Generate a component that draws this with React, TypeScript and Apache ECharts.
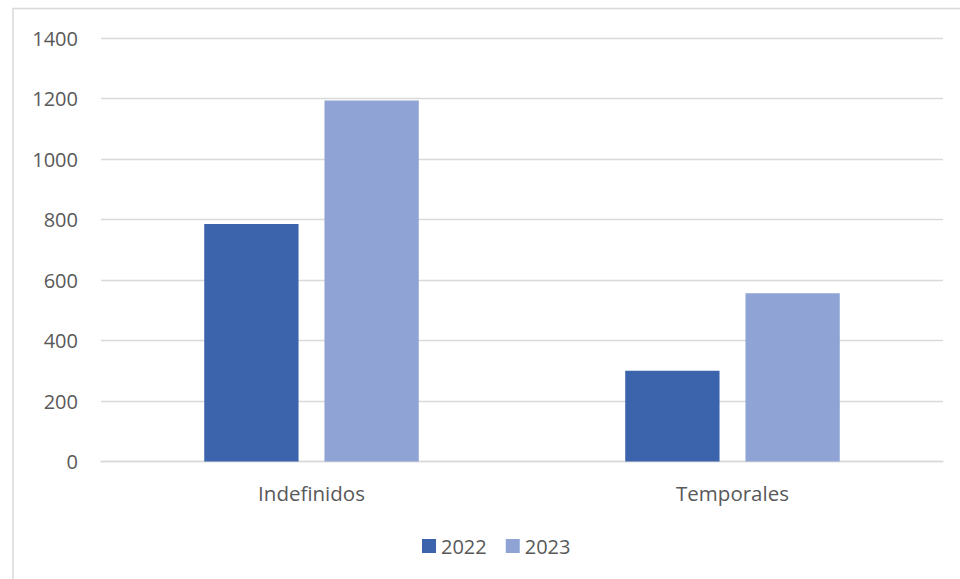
import React, { useEffect, useRef } from "react";
import * as echarts from "echarts";

// Contract types and yearly counts
const categories = ["Indefinidos", "Temporales"];
const years = ["2022", "2023"];
const values2022 = [785, 300];
const values2023 = [1193, 556];
const yTicks = { min: 0, max: 1400, interval: 200 };

const colors = ["#3b64ad", "#8fa4d5"];
const textColor = "#595959";
const font = "'Open Sans', 'Noto Sans', sans-serif";

export default function App() {
  const ref = useRef<HTMLDivElement>(null);

  useEffect(() => {
    if (!ref.current) return;
    const chart = echarts.init(ref.current, null, { renderer: "svg" });
    const seriesData = [values2022, values2023];
    chart.setOption({
      animation: false,
      backgroundColor: "#ffffff",
      textStyle: { fontFamily: font },
      grid: { left: 101, right: 17, top: 38, bottom: 117.5, containLabel: false },
      legend: {
        data: years,
        left: 417,
        top: 531,
        itemWidth: 14,
        itemHeight: 14,
        itemGap: 19,
        icon: "rect",
        textStyle: { color: textColor, fontSize: 20, fontFamily: font },
      },
      xAxis: {
        type: "category",
        data: categories,
        axisLine: { show: true, lineStyle: { color: "#d9d9d9", width: 1.3 } },
        axisTick: { show: false },
        axisLabel: { color: textColor, fontSize: 20.5, fontFamily: font, margin: 21 },
      },
      yAxis: {
        type: "value",
        min: yTicks.min,
        max: yTicks.max,
        interval: yTicks.interval,
        axisLine: { show: false },
        axisTick: { show: false },
        splitLine: { lineStyle: { color: "#d9d9d9", width: 1.3 } },
        axisLabel: {
          color: textColor,
          fontSize: 20,
          fontFamily: font,
          margin: 23,
          formatter: (v: number) => String(v),
        },
      },
      series: years.map((name, i) => ({
        name,
        type: "bar",
        data: seriesData[i],
        barWidth: "22.4%",
        barGap: "27.5%",
        itemStyle: { color: colors[i] },
      })),
      graphic: [
        {
          type: "polyline",
          shape: { points: [[13, 579], [13, 8.5], [960, 8.5]] },
          style: { stroke: "#d9d9d9", lineWidth: 1.5, fill: "none" },
          silent: true,
        },
      ],
    });
    return () => chart.dispose();
  }, []);

  return <div ref={ref} style={{ width: 960, height: 579, position: "absolute", left: 0, top: 0 }} />;
}
